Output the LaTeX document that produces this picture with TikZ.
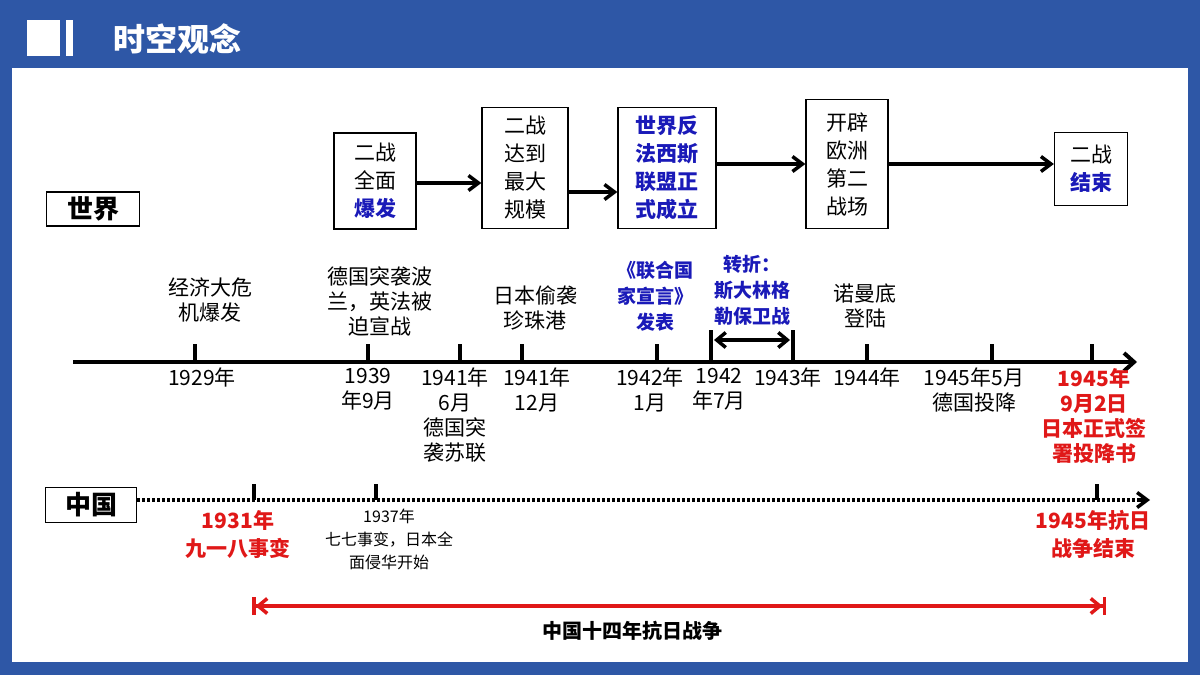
\documentclass[tikz,border=0pt]{standalone}
\usepackage{fontspec}
\setmainfont{Noto Sans CJK SC}
\usetikzlibrary{arrows.meta}
\definecolor{frame}{HTML}{2E57A6}
\definecolor{dblue}{HTML}{1A1AB8}
\definecolor{dred}{HTML}{E01818}
\begin{document}
\begin{tikzpicture}[x=1pt,y=-1pt,
  lbl/.style={align=center,font=\fontsize{21}{25}\selectfont,inner sep=0pt},
  box/.style={draw,line width=1.2pt,align=center,font=\fontsize{21}{28}\selectfont,inner sep=0pt},
  ax/.style={line width=4pt},
  tk/.style={line width=3.5pt},
  arr/.style={line width=3.5pt,-{Straight Barb[length=10pt,width=15pt]}},
  bl/.style={text=dblue,font=\bfseries},
  rd/.style={text=dred,font=\bfseries}]
\useasboundingbox (0,0) rectangle (1200,675);
% frame
\fill[frame] (0,0) rectangle (1200,68);
\fill[frame] (0,0) rectangle (12,675);
\fill[frame] (1188,0) rectangle (1200,675);
\fill[frame] (0,662) rectangle (1200,675);
\fill[white] (27,20) rectangle (60,56);
\fill[white] (66,20) rectangle (73,56);
\node[text=white,font=\fontsize{32}{36}\selectfont\bfseries,anchor=west] (title) at (110,39) {时空观念};
% world label
\node[draw,line width=1.2pt,minimum width=93pt,minimum height=34pt,font=\fontsize{26}{30}\selectfont\bfseries] (world) at (93,209) {世界};
% top boxes
\node[box,minimum width=82pt,minimum height=96pt] (b1) at (375,181) {二战\\全面\\\textcolor{dblue}{\bfseries 爆发}};
\node[box,minimum width=86pt,minimum height=121pt] (b2) at (525,168) {二战\\达到\\最大\\规模};
\node[box,minimum width=98pt,minimum height=121pt,text=dblue,font=\fontsize{21}{28}\selectfont\bfseries] (b3) at (667,168) {世界反\\法西斯\\联盟正\\式成立};
\node[box,minimum width=82pt,minimum height=129pt] (b4) at (847,164) {开辟\\欧洲\\第二\\战场};
\node[box,minimum width=73pt,minimum height=73pt] (b5) at (1091,169) {二战\\\textcolor{dblue}{\bfseries 结束}};
\draw[arr] (b1.east|-0,183) -- (b2.west|-0,183);
\draw[arr] (b2.east|-0,192) -- (b3.west|-0,192);
\draw[arr] (b3.east|-0,164) -- (b4.west|-0,164);
\draw[arr] (b4.east|-0,164) -- (b5.west|-0,164);
% main axis
\coordinate (a0) at (73,362); \coordinate (a1) at (1137,362);
\draw[ax,-{Straight Barb[length=10pt,width=18pt]}] (a0) -- (a1);
\foreach \x/\n in {195/t1,368/t2,460/t3,522/t4,657/t5,867/t8,992/t9,1092/t10}{
  \coordinate (\n) at (\x,344); \draw[tk] (\n) -- (\x,362);}
\coordinate (t6) at (711,330); \coordinate (t7) at (793,330);
\draw[tk] (t6) -- (711,362); \draw[tk] (t7) -- (793,362);
\draw[line width=3.5pt,{Straight Barb[length=9pt,width=15pt]}-{Straight Barb[length=9pt,width=15pt]}] (714,340) -- (790,340);
% above labels
\node[lbl] (u1) at (210,300) {经济大危\\机爆发};
\node[lbl] (u2) at (380,301) {德国突袭波\\兰，英法被\\迫宣战};
\node[lbl] (u4) at (535,308) {日本偷袭\\珍珠港};
\node[lbl,text=dblue,font=\fontsize{19}{26}\selectfont\bfseries] (u5) at (655,296) {《联合国\\家宣言》\\发表};
\node[lbl,text=dblue,font=\fontsize{19}{26}\selectfont\bfseries] (u6) at (752,290) {转折：\\斯大林格\\勒保卫战};
\node[lbl] (u8) at (865,306) {诺曼底\\登陆};
% below labels
\node[lbl,anchor=north] (d1) at (202,368) {1929年};
\node[lbl,anchor=north] (d2) at (368,368) {1939\\年9月};
\node[lbl,anchor=north] (d3) at (455,368) {1941年\\6月\\德国突\\袭苏联};
\node[lbl,anchor=north] (d4) at (537,368) {1941年\\12月};
\node[lbl,anchor=north] (d5) at (650,368) {1942年\\1月};
\node[lbl,anchor=north] (d6) at (719,368) {1942\\年7月};
\node[lbl,anchor=north] (d7) at (788,368) {1943年};
\node[lbl,anchor=north] (d8) at (867,368) {1944年};
\node[lbl,anchor=north] (d9) at (974,368) {1945年5月\\德国投降};
\node[lbl,anchor=north,text=dred,font=\fontsize{21}{25}\selectfont\bfseries] (d10) at (1094,368) {1945年\\9月2日\\日本正式签\\署投降书};
% china line
\node[draw,line width=1.2pt,minimum width=91pt,minimum height=35pt,font=\fontsize{26}{30}\selectfont\bfseries] (china) at (91,505) {中国};
\coordinate (c1) at (1150,500);
\draw[line width=3.5pt,dash pattern=on 2.5pt off 2.5pt] (china.east|-0,500) -- (1140,500);
\draw[line width=3.5pt,-{Straight Barb[length=10pt,width=15pt]}] (1138,500) -- (c1);
\foreach \x/\n in {254/s1,376/s2,1097/s3}{\coordinate (\n) at (\x,484); \draw[tk] (\n) -- (\x,500);}
\node[lbl,anchor=north,text=dred,font=\fontsize{21}{28}\selectfont\bfseries] (e1) at (238,510) {1931年\\九一八事变};
\node[lbl,anchor=north,font=\fontsize{16}{23}\selectfont] (e2) at (389,509) {1937年\\七七事变，日本全\\面侵华开始};
\node[lbl,anchor=north,text=dred,font=\fontsize{21}{28}\selectfont\bfseries] (e3) at (1093,510) {1945年抗日\\战争结束};
% red span
\coordinate (r1) at (252,606); \coordinate (r2) at (1106,606);
\draw[dred,line width=3.5pt,{Bar[width=18pt]Straight Barb[length=9pt,width=15pt]}-{Straight Barb[length=9pt,width=15pt]Bar[width=18pt]}] (r1) -- (r2);
\node[font=\fontsize{20}{23}\selectfont\bfseries] (span) at (632,631) {中国十四年抗日战争};
\end{tikzpicture}
\end{document}
